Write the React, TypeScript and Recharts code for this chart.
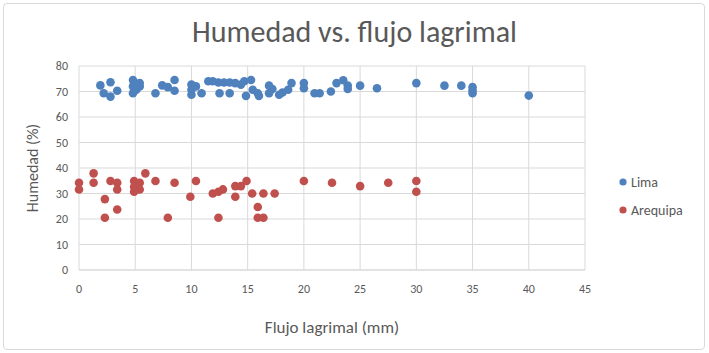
import {
  CartesianGrid,
  Legend,
  Scatter,
  ScatterChart,
  XAxis,
  YAxis,
} from "recharts";

// Lima readings: flujo lagrimal (mm) / humedad (%)
const LIMA_X = [
  1.9, 2.8, 2.2, 2.8, 3.4, 4.8, 5.4, 4.8, 4.8, 5.4, 5.1, 6.8, 7.4, 7.9, 8.5,
  8.5, 10, 10, 10, 10.4, 10.9, 11.5, 11.9, 12.4, 12.9, 13.4, 12.5, 13.4, 13.9,
  14.4, 14.7, 15.3, 14.85, 15.45, 15.9, 16, 16.9, 17.2, 16.9, 17.8, 18.1, 18.6,
  18.9, 20, 20, 20.95, 21.4, 22.4, 22.9, 23.5, 23.9, 23.9, 25, 26.5, 30, 32.5,
  34, 35, 35, 35, 40,
];
const LIMA_Y = [
  72.4, 73.6, 69.3, 68, 70.3, 74.5, 73.3, 72, 69.3, 72, 70.7, 69.3, 72.4, 71.7,
  74.5, 70.3, 72.7, 70.7, 68.7, 72, 69.3, 74, 74, 73.5, 73.5, 73.5, 69.3, 69.3,
  73.3, 72.7, 74, 74.5, 68.3, 70.7, 69.3, 68.3, 72.3, 71, 69.3, 68.7, 69.6, 70.7,
  73.3, 73.3, 71.3, 69.3, 69.3, 70, 73.3, 74.4, 72.3, 71, 72.3, 71.3, 73.3, 72.3,
  72.3, 71.7, 70.4, 69.3, 68.4,
];

// Arequipa readings
const AREQUIPA_X = [
  0, 0, 1.3, 1.3, 2.3, 2.3, 2.8, 3.4, 3.4, 3.4, 4.9, 5.4, 4.9, 4.9, 5.4, 5.9,
  6.8, 7.9, 8.5, 9.9, 10.4, 12.4, 11.9, 12.4, 12.8, 13.9, 13.9, 14.4, 14.9,
  15.4, 15.9, 15.9, 16.4, 16.4, 17.4, 20, 22.5, 25, 27.5, 30, 30,
];
const AREQUIPA_Y = [
  34.2, 31.6, 37.9, 34.2, 27.8, 20.5, 34.9, 34.2, 31.6, 23.7, 34.9, 34.2, 32.6,
  30.7, 31.6, 37.9, 34.9, 20.5, 34.2, 28.7, 34.9, 20.5, 30, 30.7, 31.6, 32.9,
  28.7, 32.9, 34.9, 30, 24.7, 20.5, 20.5, 30, 30, 34.9, 34.2, 32.9, 34.2, 34.9,
  30.7,
];

const X_TICKS = [0, 5, 10, 15, 20, 25, 30, 35, 40, 45];
const Y_TICKS = [0, 10, 20, 30, 40, 50, 60, 70, 80];

const BLUE = "#4F81BD";
const RED = "#C0504D";
const TEXT = "#595959";
const GRID = "#d9d9d9";
const FONT = "Carlito, Calibri, Lato, sans-serif";

const limaData = LIMA_X.map((x, i) => ({ x, y: LIMA_Y[i] }));
const arequipaData = AREQUIPA_X.map((x, i) => ({ x, y: AREQUIPA_Y[i] }));

const dot = (color: string) => (props: any) => (
  <circle cx={props.cx} cy={props.cy} r={4.3} fill={color} />
);

function LegendBox() {
  const items = [
    { name: "Lima", color: BLUE },
    { name: "Arequipa", color: RED },
  ];
  return (
    <div style={{ fontFamily: FONT, fontSize: 14, color: TEXT }}>
      {items.map((it) => (
        <div
          key={it.name}
          style={{ display: "flex", alignItems: "center", height: 28 }}
        >
          <svg width={10} height={10} style={{ marginRight: 3 }}>
            <circle cx={5} cy={5} r={3.6} fill={it.color} />
          </svg>
          {it.name}
        </div>
      ))}
    </div>
  );
}

export default function App() {
  return (
    <div
      style={{
        position: "absolute",
        left: 0,
        top: 0,
        width: 709,
        height: 353,
        background: "#fff",
        fontFamily: FONT,
      }}
    >
      <div
        style={{
          position: "absolute",
          left: 3,
          top: 3,
          width: 700,
          height: 345,
          border: "1px solid #d9d9d9",
          borderRadius: 4,
        }}
      />
      <div
        style={{
          position: "absolute",
          left: 0,
          top: 13,
          width: 709,
          textAlign: "center",
          fontSize: 30,
          color: TEXT,
        }}
      >
        Humedad vs. flujo lagrimal
      </div>
      <ScatterChart
        width={709}
        height={353}
        margin={{ top: 66, right: 34, bottom: 0, left: 0 }}
        style={{ position: "absolute", left: 0, top: 0 }}
      >
        <CartesianGrid stroke={GRID} />
        <XAxis
          type="number"
          dataKey="x"
          domain={[0, 45]}
          ticks={X_TICKS}
          interval={0}
          height={83}
          tickLine={false}
          axisLine={{ stroke: GRID }}
          tickMargin={8}
          tick={{ fill: TEXT, fontSize: 12, fontFamily: FONT }}
          label={{
            value: "Flujo lagrimal (mm)",
            position: "insideBottom",
            offset: 20,
            fill: TEXT,
            fontSize: 17,
            fontFamily: FONT,
          }}
        />
        <YAxis
          type="number"
          dataKey="y"
          domain={[0, 80]}
          ticks={Y_TICKS}
          interval={0}
          width={79}
          tickLine={false}
          axisLine={false}
          tickMargin={5}
          tick={{ fill: TEXT, fontSize: 12, fontFamily: FONT }}
          label={{
            value: "Humedad (%)",
            angle: -90,
            position: "insideLeft",
            offset: 32,
            style: { textAnchor: "middle" },
            fill: TEXT,
            fontSize: 16,
            fontFamily: FONT,
          }}
        />
        <Legend
          layout="vertical"
          align="right"
          verticalAlign="middle"
          content={<LegendBox />}
          wrapperStyle={{ left: 618, top: 168, width: 90 }}
        />
        <Scatter
          name="Lima"
          data={limaData}
          fill={BLUE}
          shape={dot(BLUE)}
          isAnimationActive={false}
        />
        <Scatter
          name="Arequipa"
          data={arequipaData}
          fill={RED}
          shape={dot(RED)}
          isAnimationActive={false}
        />
      </ScatterChart>
    </div>
  );
}
